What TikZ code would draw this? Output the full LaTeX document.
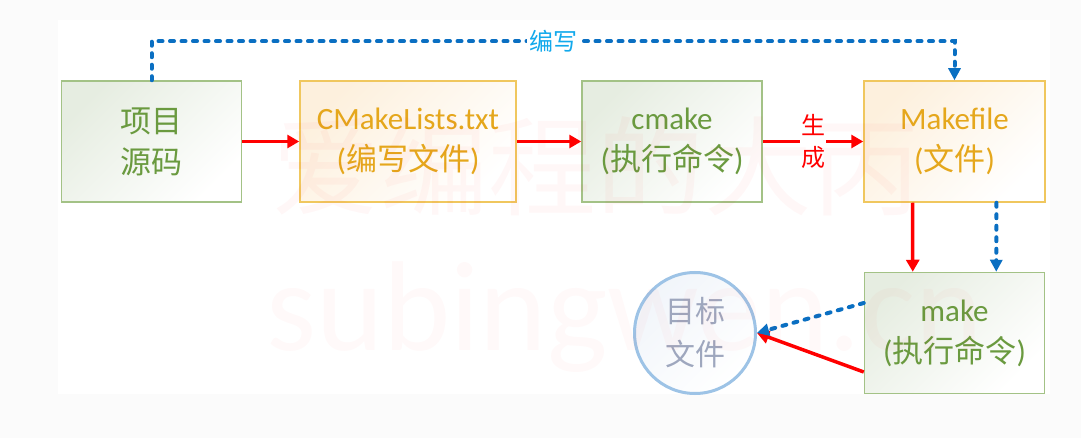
\documentclass[tikz,border=0pt]{standalone}
\usepackage{fontspec}
\setmainfont{Carlito}
\newfontfamily\cjk{Noto Sans CJK SC}
\usetikzlibrary{arrows.meta,calc}
\definecolor{gborder}{HTML}{A3C286}
\definecolor{gtext}{HTML}{6A9A3F}
\definecolor{oborder}{HTML}{F0C75E}
\definecolor{otext}{HTML}{E5A71C}
\definecolor{gfill}{HTML}{E6EDE1}
\definecolor{ofill}{HTML}{FDF0DD}
\definecolor{redarrow}{HTML}{FF0000}
\definecolor{bluedot}{HTML}{0A6FC2}
\definecolor{lbl}{HTML}{12A9EC}
\definecolor{cborder}{HTML}{9DC3E6}
\definecolor{ctext}{HTML}{9EA7BE}
\definecolor{cfill}{HTML}{F1F5FA}
\definecolor{outerbg}{HTML}{FBFBFB}
\tikzset{
  boxtext/.style={align=center, inner sep=0pt, minimum height=121pt,
    font=\fontsize{31}{41}\selectfont},
  gbox/.style={boxtext, draw=gborder, line width=1.5pt, top color=gfill,
    bottom color=white, shading angle=45, text=gtext, minimum width=180pt},
  obox/.style={boxtext, draw=oborder, line width=1.5pt, top color=ofill,
    bottom color=white, shading angle=45, text=otext, minimum width=181pt},
  redarr/.style={draw=redarrow, line width=3.5pt,
    -{Triangle[length=12pt,width=13pt]}},
  redline/.style={draw=redarrow, line width=3.5pt},
  bluearr/.style={draw=bluedot, line width=4pt, line cap=round,
    dash pattern=on 4pt off 7.5pt,
    -{Triangle[length=12pt,width=12pt,line cap=butt]}},
}
\begin{document}
\begin{tikzpicture}[x=1pt,y=-1pt]
\useasboundingbox (0,0) rectangle (1081,438);
% background
\fill[outerbg] (0,0) rectangle (1081,438);
\fill[white] (58,20) rectangle (1050,394);
% nodes
\node[gbox] (src) at (151.5,141.5) {{\cjk 项目}\\{\cjk 源码}};
\node[obox, minimum width=216pt] (cml) at (408,141.5) {CMakeLists.txt\\({\cjk 编写文件})};
\node[gbox] (cm) at (672,141.5) {cmake\\({\cjk 执行命令})};
\node[obox] (mf) at (954.5,141.5) {Makefile\\({\cjk 文件})};
\node[gbox] (mk) at (954.5,333) {make\\({\cjk 执行命令})};
\node[circle, draw=cborder, line width=3pt, minimum size=121pt, inner sep=0pt,
  top color=cfill, bottom color=white, shading angle=45, text=ctext, align=center,
  font=\cjk\fontsize{30}{43}\selectfont] (tgt) at (695,333) {目标\\文件};
% red arrows
\draw[redarr] (src.east) -- (cml.west);
\draw[redarr] (cml.east) -- (cm.west);
\path (cm.east) -- node[text=redarrow, align=center, inner sep=1pt,
  font=\cjk\fontsize{24}{32}\selectfont] (gen) {生\\成} (mf.west);
\draw[redline] (cm.east) -- (gen.west);
\draw[redarr] (gen.east) -- (mf.west);
\draw[redarr] ($(mf.south west)!0.27!(mf.south east)$) -- ($(mk.north west)!0.27!(mk.north east)$);
\draw[redarr] ($(mk.west)+(0,39)$) -- (tgt.east);
% blue dotted arrows
\draw[bluearr] ($(mf.south west)!0.73!(mf.south east)$) -- ($(mk.north west)!0.73!(mk.north east)$);
\draw[bluearr] ($(mk.west)+(0,-30)$) -- (tgt.east);
\draw[bluearr] (src.north) -- ++(0,-39) -| node[pos=0.25, fill=white, text=lbl,
  inner sep=2pt, font=\cjk\fontsize{24}{24}\selectfont] (wr) {编写} (mf.north);
% watermark
\node[text=red, text opacity=0.03, inner sep=0pt,
  font=\cjk\fontsize{108}{108}\selectfont] (wm1) at (596,166) {爱编程的大丙};
\node[text=red, text opacity=0.025, inner sep=0pt, anchor=base west,
  font=\fontsize{128}{128}\selectfont] (wm2) at (266,350) {subingwen.cn};
\end{tikzpicture}
\end{document}
